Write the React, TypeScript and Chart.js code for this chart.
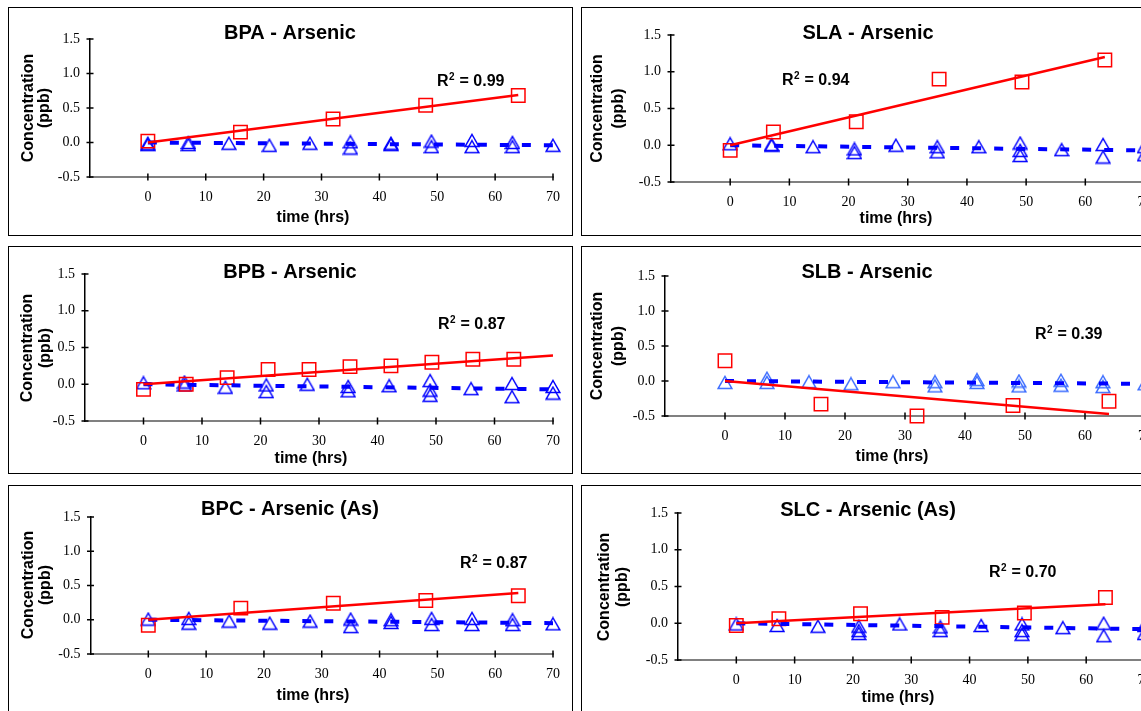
import React, { useEffect, useRef } from 'react';
import { Chart, registerables } from 'chart.js';

Chart.register(...registerables);

// ---------- axes ----------
const X_MIN = -10;
const X_MAX = 70;
const X_STEP = 10;
const Y_MIN = -0.5;
const Y_MAX = 1.5;
const Y_STEP = 0.5;

// ---------- BPA ----------
const BPA_SQ_X = [0, 16, 32, 48, 64];
const BPA_SQ_Y = [0.02, 0.15, 0.34, 0.54, 0.68];
const BPA_TRI_X = [0, 0, 7, 7, 14, 21, 28, 35, 35, 42, 42, 49, 49, 56, 56, 63, 63, 70];
const BPA_TRI_Y = [-0.01, -0.03, 0.0, -0.03, -0.01, -0.04, -0.01, 0.01, -0.08, -0.01, -0.03, 0.02, -0.06, 0.03, -0.06, 0.0, -0.06, -0.04];
const BPA_RED_FIT_X = [0, 64];
const BPA_RED_FIT_Y = [0, 0.69];
const BPA_BLUE_FIT_X = [0, 70];
const BPA_BLUE_FIT_Y = [0, -0.04];

// ---------- SLA ----------
const SLA_SQ_X = [0, 7.3, 21.3, 35.3, 49.3, 63.3];
const SLA_SQ_Y = [-0.07, 0.18, 0.32, 0.9, 0.86, 1.16];
const SLA_TRI_X = [0, 7, 7, 14, 21, 21, 28, 35, 35, 42, 49, 49, 49, 56, 63, 63, 70, 70];
const SLA_TRI_Y = [0.02, 0.01, 0.0, -0.02, -0.05, -0.1, 0.0, -0.02, -0.09, -0.02, 0.03, -0.07, -0.14, -0.06, 0.01, -0.16, -0.02, -0.13];
const SLA_RED_FIT_X = [0, 63.3];
const SLA_RED_FIT_Y = [0, 1.2];
const SLA_BLUE_FIT_X = [0, 70];
const SLA_BLUE_FIT_Y = [0, -0.07];

// ---------- BPB ----------
const BPB_SQ_X = [0, 7.3, 14.3, 21.3, 28.3, 35.3, 42.3, 49.3, 56.3, 63.3];
const BPB_SQ_Y = [-0.07, 0.0, 0.09, 0.2, 0.2, 0.24, 0.25, 0.3, 0.34, 0.34];
const BPB_TRI_X = [0, 7, 7, 14, 21, 21, 28, 35, 35, 42, 49, 49, 49, 56, 63, 63, 70, 70];
const BPB_TRI_Y = [0.02, 0.03, -0.01, -0.04, -0.01, -0.1, 0.0, -0.03, -0.09, -0.02, 0.05, -0.08, -0.15, -0.06, 0.01, -0.17, -0.03, -0.12];
const BPB_RED_FIT_X = [0, 70];
const BPB_RED_FIT_Y = [0, 0.39];
const BPB_BLUE_FIT_X = [0, 70];
const BPB_BLUE_FIT_Y = [0, -0.07];

// ---------- SLB ----------
const SLB_SQ_X = [0, 16, 32, 48, 64];
const SLB_SQ_Y = [0.29, -0.33, -0.5, -0.35, -0.29];
const SLB_TRI_X = [0, 7, 7, 14, 21, 28, 35, 35, 42, 42, 49, 49, 56, 56, 63, 63, 70];
const SLB_TRI_Y = [-0.02, 0.04, -0.02, -0.01, -0.04, -0.01, -0.01, -0.07, 0.02, -0.02, 0.0, -0.07, 0.01, -0.06, -0.01, -0.08, -0.04];
const SLB_RED_FIT_X = [0, 64];
const SLB_RED_FIT_Y = [0, -0.47];
const SLB_BLUE_FIT_X = [0, 70];
const SLB_BLUE_FIT_Y = [0, -0.04];

// ---------- BPC ----------
const BPC_SQ_X = [0, 16, 32, 48, 64];
const BPC_SQ_Y = [-0.08, 0.17, 0.24, 0.28, 0.35];
const BPC_TRI_X = [0, 7, 7, 14, 21, 28, 35, 35, 42, 42, 49, 49, 56, 56, 63, 63, 70];
const BPC_TRI_Y = [0.01, 0.02, -0.05, -0.02, -0.05, -0.02, 0.01, -0.1, 0.0, -0.04, 0.02, -0.07, 0.02, -0.07, 0.0, -0.07, -0.06];
const BPC_RED_FIT_X = [0, 64];
const BPC_RED_FIT_Y = [0, 0.39];
const BPC_BLUE_FIT_X = [0, 70];
const BPC_BLUE_FIT_Y = [0, -0.05];

// ---------- SLC ----------
const SLC_SQ_X = [0, 7.3, 21.3, 35.3, 49.4, 63.3];
const SLC_SQ_Y = [-0.03, 0.06, 0.13, 0.08, 0.14, 0.35];
const SLC_TRI_X = [0, 7, 14, 21, 21, 21, 28, 35, 35, 42, 49, 49, 49, 56, 63, 63, 70, 70];
const SLC_TRI_Y = [-0.01, -0.03, -0.04, -0.04, -0.1, -0.14, -0.01, -0.05, -0.1, -0.03, -0.01, -0.1, -0.15, -0.06, 0.0, -0.17, -0.03, -0.14];
const SLC_RED_FIT_X = [0, 63.3];
const SLC_RED_FIT_Y = [0, 0.26];
const SLC_BLUE_FIT_X = [0, 70];
const SLC_BLUE_FIT_Y = [0, -0.08];

const TITLES = ['BPA - Arsenic', 'SLA - Arsenic', 'BPB - Arsenic', 'SLB - Arsenic', 'BPC - Arsenic (As)', 'SLC - Arsenic (As)'];
const R2_VALUES = ['0.99', '0.94', '0.87', '0.39', '0.87', '0.70'];
const Y_TITLE = ['Concentration', '(ppb)'];
const X_TITLE = 'time (hrs)';

// ---------- styles ----------
const RED = '#FF0000';
const BLUE = '#0000FF';
const LIGHT_BLUE = '#3A6BFF';
const SANS = '"Liberation Sans", Arial, Helvetica, sans-serif';
const SERIF = '"Liberation Serif", "Times New Roman", serif';

type Box = { x: number; y: number; w: number; h: number };
type Plot = { l: number; r: number; t: number; b: number };
type PanelCfg = {
  title: string;
  r2: string;
  sqX: number[]; sqY: number[];
  triX: number[]; triY: number[];
  redFitX: number[]; redFitY: number[];
  blueFitX: number[]; blueFitY: number[];
  triColor: string;
  box: Box;
  plot: Plot;
  titlePos: [number, number];
  r2Pos: [number, number];
  yTitleX: [number, number];
  yTitleY: number;
  xTitlePos: [number, number];
};

const PANELS: PanelCfg[] = [
  {
    title: TITLES[0], r2: R2_VALUES[0],
    sqX: BPA_SQ_X, sqY: BPA_SQ_Y, triX: BPA_TRI_X, triY: BPA_TRI_Y,
    redFitX: BPA_RED_FIT_X, redFitY: BPA_RED_FIT_Y, blueFitX: BPA_BLUE_FIT_X, blueFitY: BPA_BLUE_FIT_Y,
    triColor: BLUE,
    box: { x: 8, y: 7, w: 565, h: 229 },
    plot: { l: 90, r: 563, t: 39, b: 177 },
    titlePos: [290, 39], r2Pos: [437, 86], yTitleX: [33, 49], yTitleY: 108, xTitlePos: [313, 222],
  },
  {
    title: TITLES[1], r2: R2_VALUES[1],
    sqX: SLA_SQ_X, sqY: SLA_SQ_Y, triX: SLA_TRI_X, triY: SLA_TRI_Y,
    redFitX: SLA_RED_FIT_X, redFitY: SLA_RED_FIT_Y, blueFitX: SLA_BLUE_FIT_X, blueFitY: SLA_BLUE_FIT_Y,
    triColor: BLUE,
    box: { x: 581, y: 7, w: 600, h: 229 },
    plot: { l: 671, r: 1144.5, t: 35, b: 182 },
    titlePos: [868, 39], r2Pos: [782, 85], yTitleX: [602, 623], yTitleY: 108.5, xTitlePos: [896, 223],
  },
  {
    title: TITLES[2], r2: R2_VALUES[2],
    sqX: BPB_SQ_X, sqY: BPB_SQ_Y, triX: BPB_TRI_X, triY: BPB_TRI_Y,
    redFitX: BPB_RED_FIT_X, redFitY: BPB_RED_FIT_Y, blueFitX: BPB_BLUE_FIT_X, blueFitY: BPB_BLUE_FIT_Y,
    triColor: BLUE,
    box: { x: 8, y: 246, w: 565, h: 228 },
    plot: { l: 85, r: 563, t: 274, b: 421 },
    titlePos: [290, 278], r2Pos: [438, 329], yTitleX: [32, 50], yTitleY: 348, xTitlePos: [311, 463],
  },
  {
    title: TITLES[3], r2: R2_VALUES[3],
    sqX: SLB_SQ_X, sqY: SLB_SQ_Y, triX: SLB_TRI_X, triY: SLB_TRI_Y,
    redFitX: SLB_RED_FIT_X, redFitY: SLB_RED_FIT_Y, blueFitX: SLB_BLUE_FIT_X, blueFitY: SLB_BLUE_FIT_Y,
    triColor: LIGHT_BLUE,
    box: { x: 581, y: 246, w: 600, h: 228 },
    plot: { l: 665, r: 1145, t: 276, b: 416 },
    titlePos: [867, 278], r2Pos: [1035, 339], yTitleX: [602, 623], yTitleY: 346, xTitlePos: [892, 461],
  },
  {
    title: TITLES[4], r2: R2_VALUES[4],
    sqX: BPC_SQ_X, sqY: BPC_SQ_Y, triX: BPC_TRI_X, triY: BPC_TRI_Y,
    redFitX: BPC_RED_FIT_X, redFitY: BPC_RED_FIT_Y, blueFitX: BPC_BLUE_FIT_X, blueFitY: BPC_BLUE_FIT_Y,
    triColor: BLUE,
    box: { x: 8, y: 485, w: 565, h: 240 },
    plot: { l: 90.5, r: 563, t: 517, b: 654 },
    titlePos: [290, 515], r2Pos: [460, 568], yTitleX: [33, 50], yTitleY: 585, xTitlePos: [313, 700],
  },
  {
    title: TITLES[5], r2: R2_VALUES[5],
    sqX: SLC_SQ_X, sqY: SLC_SQ_Y, triX: SLC_TRI_X, triY: SLC_TRI_Y,
    redFitX: SLC_RED_FIT_X, redFitY: SLC_RED_FIT_Y, blueFitX: SLC_BLUE_FIT_X, blueFitY: SLC_BLUE_FIT_Y,
    triColor: BLUE,
    box: { x: 581, y: 485, w: 600, h: 240 },
    plot: { l: 678, r: 1144.5, t: 513, b: 660 },
    titlePos: [868, 516], r2Pos: [989, 577], yTitleX: [609, 627], yTitleY: 587, xTitlePos: [898, 702],
  },
];

const BORDER = 1;

function makeTriangle(color: string): HTMLCanvasElement {
  const c = document.createElement('canvas');
  c.width = 16;
  c.height = 15;
  const g = c.getContext('2d')!;
  g.strokeStyle = color;
  g.lineWidth = 1.5;
  g.lineJoin = 'miter';
  g.beginPath();
  g.moveTo(8, 1.5);
  g.lineTo(14.8, 13.5);
  g.lineTo(1.2, 13.5);
  g.closePath();
  g.stroke();
  return c;
}

const toPts = (xs: number[], ys: number[]) => xs.map((x, i) => ({ x, y: ys[i] }));

function PanelChart({ cfg }: { cfg: PanelCfg }) {
  const ref = useRef<HTMLCanvasElement | null>(null);
  const cw = cfg.box.w - 2 * BORDER;
  const ch = cfg.box.h - 2 * BORDER;
  const ox = cfg.box.x + BORDER;
  const oy = cfg.box.y + BORDER;

  useEffect(() => {
    if (!ref.current) return;
    const plotL = cfg.plot.l - ox;
    const plotR = cfg.plot.r - ox;
    const plotT = cfg.plot.t - oy;
    const plotB = cfg.plot.b - oy;
    const yW = plotL;
    const xH = ch - plotB;

    const tickMarks = {
      id: 'tickMarks',
      beforeDatasetsDraw(chart: any) {
        const { ctx, chartArea } = chart;
        const xs = chart.scales.x;
        const ys = chart.scales.y;
        ctx.save();
        ctx.strokeStyle = '#000';
        ctx.lineWidth = 1.5;
        ctx.beginPath();
        for (const t of ys.ticks) {
          const py = ys.getPixelForValue(t.value);
          ctx.moveTo(chartArea.left - 3.5, py);
          ctx.lineTo(chartArea.left + 3.5, py);
        }
        for (const t of xs.ticks) {
          if (t.value === X_MIN) continue;
          const px = xs.getPixelForValue(t.value);
          ctx.moveTo(px, chartArea.bottom - 3.5);
          ctx.lineTo(px, chartArea.bottom + 3.5);
        }
        ctx.stroke();
        ctx.restore();
      },
    };

    const texts = {
      id: 'panelTexts',
      afterDraw(chart: any) {
        const { ctx } = chart;
        ctx.save();
        ctx.fillStyle = '#000';
        // title
        ctx.font = `bold 20px ${SANS}`;
        ctx.textAlign = 'center';
        ctx.textBaseline = 'alphabetic';
        ctx.fillText(cfg.title, cfg.titlePos[0] - ox, cfg.titlePos[1] - oy);
        // x title
        ctx.font = `bold 16px ${SANS}`;
        ctx.fillText(X_TITLE, cfg.xTitlePos[0] - ox, cfg.xTitlePos[1] - oy);
        // y title (two rotated lines)
        Y_TITLE.forEach((line, i) => {
          ctx.save();
          ctx.translate(cfg.yTitleX[i] - ox, cfg.yTitleY - oy);
          ctx.rotate(-Math.PI / 2);
          ctx.textAlign = 'center';
          ctx.fillText(line, 0, 0);
          ctx.restore();
        });
        // R^2 label
        ctx.textAlign = 'left';
        const rx = cfg.r2Pos[0] - ox;
        const ry = cfg.r2Pos[1] - oy;
        ctx.font = `bold 16px ${SANS}`;
        ctx.fillText('R', rx, ry);
        const wR = ctx.measureText('R').width;
        ctx.font = `bold 10px ${SANS}`;
        ctx.fillText('2', rx + wR + 0.5, ry - 6);
        const w2 = ctx.measureText('2').width;
        ctx.font = `bold 16px ${SANS}`;
        ctx.fillText(' = ' + cfg.r2, rx + wR + w2 + 1, ry);
        ctx.restore();
      },
    };

    const chart = new Chart(ref.current, {
      type: 'scatter',
      data: {
        datasets: [
          {
            type: 'line',
            data: toPts(cfg.redFitX, cfg.redFitY),
            borderColor: RED,
            borderWidth: 2.5,
            pointRadius: 0,
            fill: false,
            clip: false,
            order: 1,
          } as any,
          {
            type: 'line',
            data: toPts(cfg.blueFitX, cfg.blueFitY),
            borderColor: BLUE,
            borderWidth: 4,
            borderDash: [9, 13],
            borderCapStyle: 'butt',
            pointRadius: 0,
            fill: false,
            clip: false,
            order: 2,
          } as any,
          {
            type: 'scatter',
            data: toPts(cfg.sqX, cfg.sqY),
            pointStyle: 'rect',
            pointRadius: 9.5,
            borderColor: RED,
            borderWidth: 1.5,
            backgroundColor: 'rgba(0,0,0,0)',
            clip: false,
            order: 3,
          } as any,
          {
            type: 'scatter',
            data: toPts(cfg.triX, cfg.triY),
            pointStyle: makeTriangle(cfg.triColor),
            pointRadius: 8,
            clip: false,
            order: 4,
          } as any,
        ],
      },
      options: {
        responsive: false,
        animation: false,
        devicePixelRatio: 1,
        events: [],
        layout: {
          padding: { left: 0, top: plotT, right: cw - plotR, bottom: 0 },
        },
        plugins: {
          legend: { display: false },
          tooltip: { enabled: false },
          title: { display: false },
        },
        scales: {
          x: {
            type: 'linear',
            min: X_MIN,
            max: X_MAX,
            afterFit: (s: any) => { s.height = xH; },
            grid: { display: false, drawTicks: false },
            border: { display: true, color: '#808080', width: 2 },
            ticks: {
              stepSize: X_STEP,
              autoSkip: false,
              maxRotation: 0,
              padding: 12,
              color: '#000',
              font: { family: SERIF, size: 14 },
              callback: (v: any) => (Number(v) === X_MIN ? '' : String(v)),
            },
          },
          y: {
            type: 'linear',
            min: Y_MIN,
            max: Y_MAX,
            afterFit: (s: any) => { s.width = yW; },
            grid: { display: false, drawTicks: false },
            border: { display: true, color: '#000', width: 1.5 },
            ticks: {
              stepSize: Y_STEP,
              padding: 10,
              color: '#000',
              font: { family: SERIF, size: 14 },
              callback: (v: any) => Number(v).toFixed(1),
            },
          },
        },
      } as any,
      plugins: [tickMarks, texts],
    });
    return () => chart.destroy();
  }, [cfg]);

  return (
    <div
      style={{
        position: 'absolute',
        left: cfg.box.x,
        top: cfg.box.y,
        width: cfg.box.w,
        height: cfg.box.h,
        boxSizing: 'border-box',
        border: `${BORDER}px solid #000`,
        background: '#fff',
      }}
    >
      <canvas ref={ref} width={cw} height={ch} style={{ display: 'block', width: cw, height: ch }} />
    </div>
  );
}

export default function App() {
  return (
    <div
      style={{
        position: 'fixed',
        left: 0,
        top: 0,
        width: 1141,
        height: 711,
        overflow: 'hidden',
        background: '#fff',
      }}
    >
      {PANELS.map((p, i) => (
        <PanelChart key={i} cfg={p} />
      ))}
    </div>
  );
}
